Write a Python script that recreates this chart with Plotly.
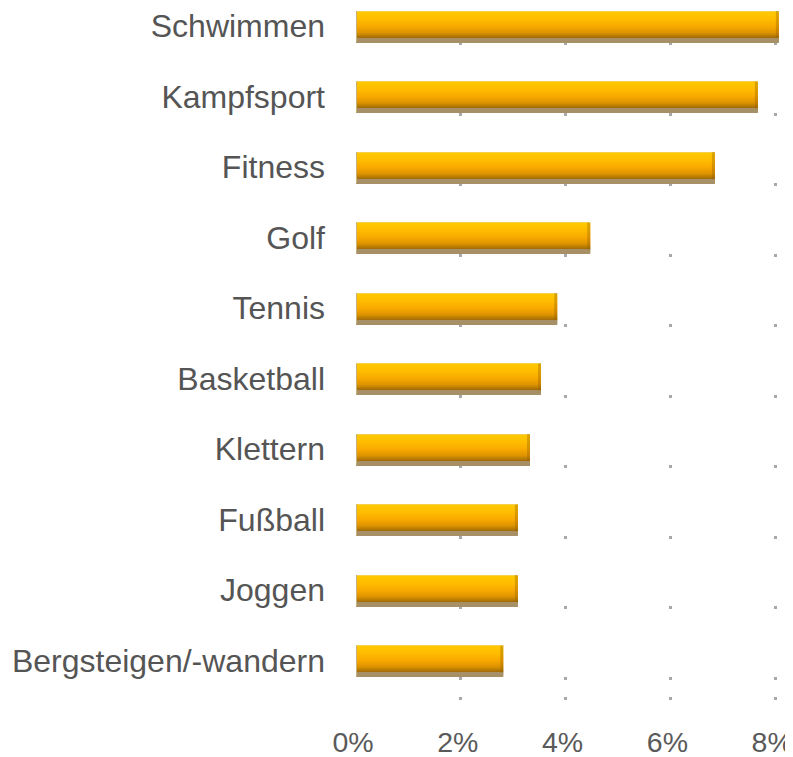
import plotly.graph_objects as go

# ---- data ----
categories = ["Schwimmen", "Kampfsport", "Fitness", "Golf", "Tennis",
              "Basketball", "Klettern", "Fußball", "Joggen", "Bergsteigen/-wandern"]
values = [8.07, 7.67, 6.85, 4.47, 3.84, 3.53, 3.32, 3.09, 3.09, 2.81]
tick_vals = [0, 2, 4, 6, 8]
tick_text = ["0%", "2%", "4%", "6%", "8%"]

# ---- styling helpers ----
ROW_PX = 70.5          # pixels per category row
X_PX = 52.4            # pixels per percent
PAGE_OFF = 8           # default body margin of the html page


def hex2rgb(h):
    h = h.lstrip("#")
    return tuple(int(h[i:i + 2], 16) for i in (0, 2, 4))


def interp(stops, p):
    for (p0, c0), (p1, c1) in zip(stops, stops[1:]):
        if p0 <= p <= p1:
            t = 0 if p1 == p0 else (p - p0) / (p1 - p0)
            a, b = hex2rgb(c0), hex2rgb(c1)
            return "rgb(%d,%d,%d)" % tuple(round(a[i] + (b[i] - a[i]) * t) for i in range(3))
    return stops[-1][1]


stops = [(0, "#F6D04A"), (1, "#FFC800"), (8, "#FFBC00"), (15, "#F8A800"),
         (21, "#DE9400"), (24, "#BC7E00"), (26, "#A66E08"), (27, "#A89066"), (30, "#A89066")]

fig = go.Figure()

# shadow / gradient strips drawn as thin overlaid bars
for p in range(31):
    fig.add_trace(go.Bar(
        y=categories, x=values, orientation="h",
        offset=(p - 15) / ROW_PX, width=1.15 / ROW_PX,
        marker=dict(color=interp(stops, p), line=dict(width=0)),
        hoverinfo="skip", showlegend=False))

# darker right end cap
fig.add_trace(go.Bar(
    y=categories, x=[3 / X_PX] * len(values), base=[v - 3 / X_PX for v in values],
    orientation="h", offset=-15 / ROW_PX, width=27 / ROW_PX,
    marker=dict(color="rgba(150,95,0,0.35)", line=dict(width=0)),
    hoverinfo="skip", showlegend=False))

# light left edge
fig.add_trace(go.Bar(
    y=categories, x=[3 / X_PX] * len(values), base=[-2 / X_PX] * len(values),
    orientation="h", offset=-15 / ROW_PX, width=31 / ROW_PX,
    marker=dict(color="rgba(200,176,122,1)", line=dict(width=0)),
    hoverinfo="skip", showlegend=False))

W, H = 793 - PAGE_OFF, 757 - PAGE_OFF
plot_left = 356 - PAGE_OFF
plot_right = 783 - PAGE_OFF
plot_top = 0
plot_bottom = 700 - PAGE_OFF
center0 = 26 - PAGE_OFF  # pixel of first category position
first_dot = 42 - PAGE_OFF

fig.update_layout(
    width=W, height=H,
    margin=dict(l=plot_left, r=W - plot_right, t=plot_top, b=H - plot_bottom,
                pad=0, autoexpand=False),
    barmode="overlay",
    paper_bgcolor="white", plot_bgcolor="white",
    font=dict(family="Liberation Sans, Arial, sans-serif", size=30, color="#555555"),
    xaxis=dict(
        automargin=False,
        range=[0, (plot_right - plot_left) / X_PX],
        tickvals=tick_vals, ticktext=tick_text,
        showgrid=True, gridcolor="#A8A8A8", gridwidth=3,
        griddash="0px,%dpx,3px,%.1fpx" % (first_dot, ROW_PX - first_dot - 3),
        zeroline=False, showline=False,
        ticks="inside", ticklen=3, tickwidth=3, tickcolor="#A8A8A8",
        ticklabelstandoff=22, ticklabeloverflow="allow", ticklabelshift=-3,
        tickfont=dict(size=28.5, color="#5a5a5a"),
    ),
    yaxis=dict(
        automargin=False,
        type="category", categoryorder="array", categoryarray=categories,
        range=[(plot_bottom - center0) / ROW_PX, -center0 / ROW_PX],
        showgrid=False, zeroline=False, showline=False, ticks="",
        ticklabelstandoff=30,
        tickfont=dict(size=32, color="#555555"),
    ),
)

fig.write_html("out.html")
